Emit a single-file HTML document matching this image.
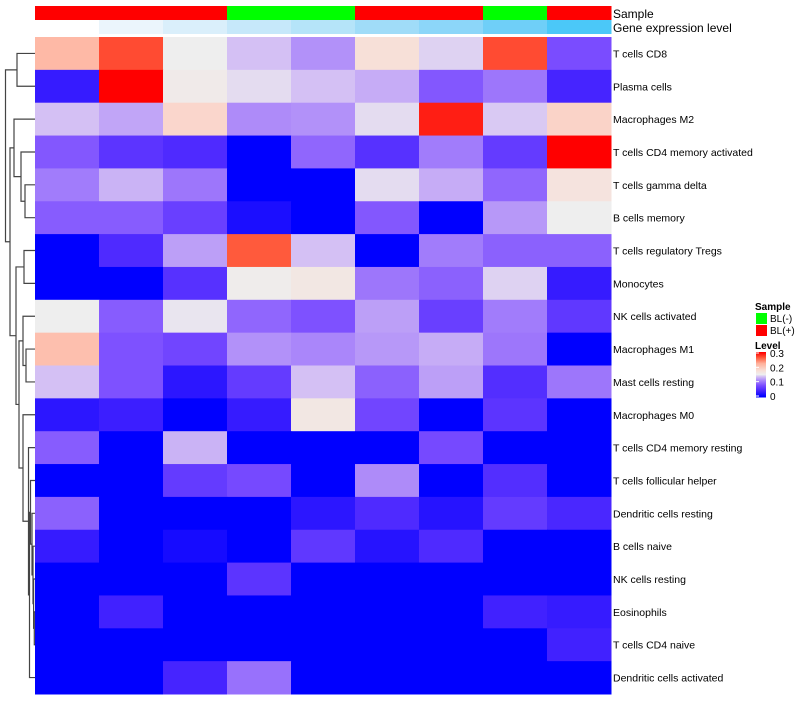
<!DOCTYPE html>
<html><head><meta charset="utf-8"><style>
body{margin:0;background:#fff;width:800px;height:700px;overflow:hidden;font-family:"Liberation Sans",sans-serif}
</style></head><body>
<svg id="chart" width="800" height="700" xmlns="http://www.w3.org/2000/svg" font-family="Liberation Sans, sans-serif"></svg>
<script>
const rowLabels=["T cells CD8","Plasma cells","Macrophages M2","T cells CD4 memory activated","T cells gamma delta","B cells memory","T cells regulatory  Tregs","Monocytes","NK cells activated","Macrophages M1","Mast cells resting","Macrophages M0","T cells CD4 memory resting","T cells follicular helper","Dendritic cells resting","B cells naive","NK cells resting","Eosinophils","T cells CD4 naive","Dendritic cells activated"];
const sampleGroups=["BL(+)","BL(+)","BL(+)","BL(-)","BL(-)","BL(+)","BL(+)","BL(-)","BL(+)"];
const geneLevelColors=["#ffffff","#ebf5fc","#daeffb","#c6e8fa","#b5e4f9","#a0dcf8","#8cd6f9","#6fcff8","#4bc8f8"];
const legendTicks=[0,0.1,0.2,0.3];
const r0=[0.216,0.27,0.15,0.135,0.114,0.174,0.141,0.27,0.075];
const r1=[0.03,0.3,0.156,0.144,0.135,0.126,0.081,0.099,0.039];
const r2=[0.135,0.123,0.186,0.111,0.114,0.144,0.288,0.138,0.189];
const r3=[0.081,0.054,0.045,0,0.09,0.051,0.102,0.06,0.3];
const r4=[0.102,0.129,0.099,0,0,0.144,0.126,0.09,0.168];
const r5=[0.084,0.084,0.063,0.015,0,0.081,0,0.117,0.15];
const r6=[0,0.045,0.12,0.264,0.135,0,0.102,0.087,0.087];
const r7=[0,0,0.051,0.153,0.162,0.099,0.087,0.141,0.03];
const r8=[0.15,0.084,0.147,0.09,0.078,0.12,0.063,0.102,0.057];
const r9=[0.21,0.078,0.069,0.114,0.108,0.117,0.126,0.099,0];
const r10=[0.135,0.078,0.024,0.06,0.135,0.087,0.12,0.048,0.099];
const r11=[0.024,0.033,0,0.03,0.162,0.069,0,0.054,0];
const r12=[0.084,0,0.129,0,0,0,0.072,0,0];
const r13=[0,0,0.06,0.072,0,0.111,0,0.048,0];
const r14=[0.087,0,0,0,0.024,0.045,0.021,0.06,0.042];
const r15=[0.03,0,0.012,0,0.057,0.021,0.045,0,0];
const r16=[0,0,0,0.054,0,0,0,0,0];
const r17=[0,0.036,0,0,0,0,0,0.036,0.03];
const r18=[0,0,0,0,0,0,0,0,0.036];
const r19=[0,0,0.039,0.096,0,0,0,0,0];
const values=[r0,r1,r2,r3,r4,r5,r6,r7,r8,r9,r10,r11,r12,r13,r14,r15,r16,r17,r18,r19];

const NS="http://www.w3.org/2000/svg";
const svg=document.getElementById('chart');
const X0=35,X1=611,Y0=37,Y1=694;
const nCols=9,nR=rowLabels.length;
const cw=(X1-X0)/nCols,rh=(Y1-Y0)/nR;
const xPos=i=>X0+i*cw, yPos=j=>Y0+j*rh, yMid=j=>Y0+(j+0.5)*rh;
const vmax=0.3;
const stops=[[0,[0,0,255]],[0.125,[68,34,255]],[0.25,[122,76,255]],[0.375,[176,142,249]],[0.45,[212,192,244]],[0.5,[238,238,238]],[0.6,[249,220,211]],[0.75,[255,176,155]],[0.88,[255,90,60]],[1,[255,0,0]]];
function color(v){let f0=Math.max(0,Math.min(1,v/vmax));
 for(let k=1;k<stops.length;k++){if(f0<=stops[k][0]){const a=stops[k-1],b=stops[k],f=(f0-a[0])/(b[0]-a[0]);
 return 'rgb('+a[1].map((c,i)=>Math.round(c+(b[1][i]-c)*f)).join(',')+')';}}return 'rgb(255,0,0)';}
function mk(tag,attrs){const e=document.createElementNS(NS,tag);for(const k in attrs)e.setAttribute(k,attrs[k]);svg.appendChild(e);return e;}
function txt(x,y,s,size,weight){const e=mk('text',{x:x,y:y,'font-size':size,'font-weight':weight||'normal',fill:'#000'});e.textContent=s;return e;}

sampleGroups.forEach((g,i)=>{const r=mk('rect',{x:xPos(i),y:6,width:cw+0.5,height:14,fill:g==="BL(-)"?'#00ff00':'#ff0000'});

});
geneLevelColors.forEach((c,i)=>{const r=mk('rect',{x:xPos(i),y:20,width:cw+0.5,height:14,fill:c});

});
let t=txt(613,18,'Sample',12);


t=txt(613,32,'Gene expression level',12);



values.forEach((row,j)=>row.forEach((v,i)=>{const r=mk('rect',{x:xPos(i),y:yPos(j),width:cw+0.5,height:rh+0.5,fill:color(v)});

}));
rowLabels.forEach((s,j)=>{const l=txt(613,yMid(j)+4,s,10.5);

});

const dg=document.createElementNS(NS,'g');dg.setAttribute('stroke','#444');dg.setAttribute('stroke-width','1.2');dg.setAttribute('fill','none');


svg.appendChild(dg);
function node(a,b,h){const p=document.createElementNS(NS,'path');
p.setAttribute('d',`M${a.x},${a.y}H${h}V${b.y}H${b.x}`);dg.appendChild(p);return {x:h,y:(a.y+b.y)/2};}
const leaf=j=>({x:X0,y:yMid(j)});
const n12=node(leaf(0),leaf(1),17);
const n56=node(leaf(4),leaf(5),25);
const n456=node(leaf(3),n56,21);
const n3456=node(leaf(2),n456,14);
const n78=node(leaf(6),leaf(7),24);
const n1011=node(leaf(9),leaf(10),26);
const n91011=node(leaf(8),n1011,23);
const nI2=node(leaf(16),node(leaf(17),leaf(18),34.3),33.6);
const nH=node(leaf(15),nI2,33);
const nG=node(leaf(14),nH,32);
const nF=node(leaf(13),nG,30.5);
const nF2=node(nF,leaf(19),29.5);
const nE=node(leaf(12),nF2,28.5);
const nClu=node(leaf(11),nE,23);
const nJ=node(n91011,nClu,19);
const nB=node(n78,nJ,16);
const nK=node(n3456,nB,10);
node(n12,nK,5.5);

t=txt(755,310,'Sample',10,'bold');


let s=mk('rect',{x:756,y:313,width:11,height:11,fill:'#00ff00'});


t=txt(770,322,'BL(-)',10);


s=mk('rect',{x:756,y:325,width:11,height:11,fill:'#ff0000'});


t=txt(770,334,'BL(+)',10);


t=txt(755,349,'Level',10,'bold');


const lgTop=352,lgBot=397,N=45;
for(let k=0;k<N;k++){const v=vmax*(1-k/(N-1));const r=mk('rect',{x:756,y:lgTop+k*(lgBot-lgTop)/N,width:10,height:(lgBot-lgTop)/N+0.5,fill:color(v)});

}
legendTicks.forEach(v=>{const y=lgBot-(v/vmax)*(lgBot-lgTop-2)-1;
const l=mk('line',{x1:756,x2:759,y1:y,y2:y,stroke:'#fff'});


const tt=txt(770,y+4,String(v),10);

});
</script>
</body></html>
